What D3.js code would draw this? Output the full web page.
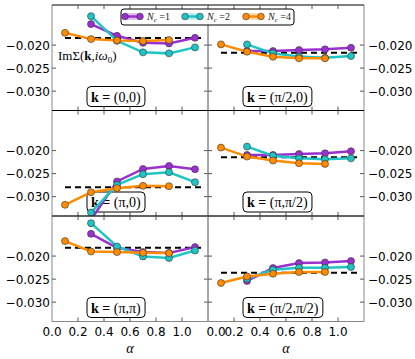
<!DOCTYPE html>
<html><head><meta charset="utf-8">
<script src="https://cdn.jsdelivr.net/npm/d3@7"></script>
<style>body{margin:0;background:#fff}</style></head>
<body>
<svg id="c" width="415" height="359"></svg>
<script>
// ---------- data ----------
const kLabels = ["(0,0)", "(π/2,0)", "(π,0)", "(π,π/2)", "(π,π)", "(π/2,π/2)"];
const alphaNc12 = [0.3, 0.5, 0.7, 0.9, 1.1];
const alphaNc4 = [0.1, 0.3, 0.5, 0.7, 0.9];
const nc1 = [
  [-0.01545, -0.01799, -0.0195, -0.01963, -0.01842],
  [-0.0213, -0.0213, -0.02108, -0.02093, -0.02058],
  [-0.0350, -0.0267, -0.02398, -0.02333, -0.02405],
  [-0.02095, -0.02095, -0.02074, -0.02058, -0.02015],
  [-0.01517, -0.0182, -0.01913, -0.01935, -0.01805],
  [-0.0254, -0.0226, -0.02152, -0.02138, -0.02108]
];
const nc2 = [
  [-0.01372, -0.01907, -0.02158, -0.0218, -0.0205],
  [-0.01985, -0.0218, -0.0225, -0.02275, -0.02238],
  [-0.03345, -0.02745, -0.02513, -0.0247, -0.02686],
  [-0.01913, -0.0211, -0.02167, -0.02188, -0.02167],
  [-0.01286, -0.01792, -0.02009, -0.02043, -0.01879],
  [-0.02491, -0.02297, -0.02253, -0.02253, -0.02238]
];
const nc4 = [
  [-0.01734, -0.0187, -0.01898, -0.01913, -0.01892],
  [-0.01985, -0.02145, -0.02253, -0.02288, -0.02288],
  [-0.03177, -0.02903, -0.02816, -0.02766, -0.02773],
  [-0.01935, -0.0213, -0.02216, -0.02275, -0.0229],
  [-0.01675, -0.019, -0.01913, -0.01929, -0.01935],
  [-0.02584, -0.02442, -0.02383, -0.02346, -0.02346]
];
const refLevel = [-0.01848, -0.02166, -0.02794, -0.02145, -0.0182, -0.0236];
const refRange = [0.1, 1.15];
const xTicks = [0, 0.2, 0.4, 0.6, 0.8, 1.0, 1.2];
const xTickLabels = ["0.0", "0.2", "0.4", "0.6", "0.8", "1.0", ""];
const yTicks = [-0.020, -0.025, -0.030];
const yTickLabels = ["\u22120.020", "\u22120.025", "\u22120.030"];
const seriesNames = ["1", "2", "4"];
const colors = ["#9b30d0", "#1fc4c4", "#ff8c00"];

// ---------- layout ----------
const svg = d3.select("#c");
const colX = [52, 208], pw = 156;
const rowY = [5, 110.5, 216], ph = 105.5;
const xDom = [0, 1.2], yDom = [-0.0342, -0.0113];

function drawPanel(i) {
  const col = i % 2, row = Math.floor(i / 2);
  const x0 = colX[col], y0 = rowY[row];
  const x = d3.scaleLinear().domain(xDom).range([x0, x0 + pw]);
  const y = d3.scaleLinear().domain(yDom).range([y0 + ph, y0]);
  const g = svg.append("g");
  const cid = "clip" + i;
  svg.append("clipPath").attr("id", cid).append("rect")
    .attr("x", x0).attr("y", y0).attr("width", pw).attr("height", ph);

  // label box
  const lg = g.append("g");
  const t = lg.append("text").attr("x", x(0.3)).attr("y", y0 + ph - 9)
    .attr("font-family", "Liberation Serif, DejaVu Serif, serif").attr("font-size", 14);
  t.append("tspan").attr("font-weight", "bold").text("k = ");
  t.append("tspan").text(kLabels[i]);
  const bb = t.node().getBBox();
  lg.insert("rect", "text").attr("x", bb.x - 4).attr("y", y0 + ph - 24)
    .attr("width", bb.width + 8).attr("height", 20).attr("rx", 4)
    .attr("fill", "#fff").attr("stroke", "#000").attr("stroke-width", 1);

  const dg = g.append("g").attr("clip-path", `url(#${cid})`);
  // reference dashed line
  dg.append("line").attr("x1", x(refRange[0])).attr("x2", x(refRange[1]))
    .attr("y1", y(refLevel[i])).attr("y2", y(refLevel[i]))
    .attr("stroke", "#000").attr("stroke-width", 2).attr("stroke-dasharray", "6,4");

  const series = [
    {a: alphaNc12, v: nc1[i], c: colors[0]},
    {a: alphaNc12, v: nc2[i], c: colors[1]},
    {a: alphaNc4, v: nc4[i], c: colors[2]}
  ];
  const line = d3.line().x(d => x(d[0])).y(d => y(d[1]));
  series.forEach(s => {
    const pts = s.a.map((a, j) => [a, s.v[j]]);
    dg.append("path").attr("d", line(pts)).attr("fill", "none")
      .attr("stroke", s.c).attr("stroke-width", 2.5);
    dg.selectAll(null).data(pts).enter().append("circle")
      .attr("cx", d => x(d[0])).attr("cy", d => y(d[1])).attr("r", 3.5)
      .attr("fill", s.c).attr("stroke", "#333").attr("stroke-width", 0.6);
  });

  // spines
  const sp = g.append("g");
  sp.append("line").attr("x1", x0).attr("x2", x0).attr("y1", y0).attr("y2", y0 + ph).attr("stroke", "#888");
  sp.append("line").attr("x1", x0 + pw).attr("x2", x0 + pw).attr("y1", y0).attr("y2", y0 + ph).attr("stroke", "#888");
  sp.append("line").attr("x1", x0).attr("x2", x0 + pw).attr("y1", y0 + ph).attr("y2", y0 + ph).attr("stroke", "#888");
  sp.append("line").attr("x1", x0).attr("x2", x0 + pw).attr("y1", y0).attr("y2", y0).attr("stroke", "#000");

  // ticks (inward, all sides)
  const tk = g.append("g").attr("stroke", "#555").attr("stroke-width", 1);
  xTicks.forEach(v => {
    if (v <= xDom[0] || v >= xDom[1]) return;
    tk.append("line").attr("x1", x(v)).attr("x2", x(v)).attr("y1", y0 + ph).attr("y2", y0 + ph - 4);
    tk.append("line").attr("x1", x(v)).attr("x2", x(v)).attr("y1", y0).attr("y2", y0 + 4);
  });
  yTicks.forEach(v => {
    tk.append("line").attr("x1", x0).attr("x2", x0 + 4).attr("y1", y(v)).attr("y2", y(v));
    tk.append("line").attr("x1", x0 + pw).attr("x2", x0 + pw - 4).attr("y1", y(v)).attr("y2", y(v));
  });

  // y tick labels
  const tf = "DejaVu Sans, sans-serif";
  yTicks.forEach((v, j) => {
    g.append("text").attr("x", col === 0 ? x0 - 2 : x0 + pw + 4).attr("y", y(v) + 4.5)
      .attr("text-anchor", col === 0 ? "end" : "start")
      .attr("font-family", tf).attr("font-size", 12).attr("fill", "#000").text(yTickLabels[j]);
  });
  // x tick labels on bottom row
  if (row === 2) {
    xTicks.forEach((v, j) => {
      if (!xTickLabels[j]) return;
      const shift = (col === 1 && j === 0) ? 8 : 0;
      g.append("text").attr("x", x(v) + shift).attr("y", y0 + ph + 14)
        .attr("text-anchor", "middle").attr("font-family", tf).attr("font-size", 12)
        .text(xTickLabels[j]);
    });
    g.append("text").attr("x", x(0.6)).attr("y", y0 + ph + 31).attr("text-anchor", "middle")
      .attr("font-family", "Liberation Serif, DejaVu Serif, serif").attr("font-style", "italic")
      .attr("font-size", 14).text("α");
  }

  if (i === 0) {
    const it = g.append("text").attr("x", 58).attr("y", 60)
      .attr("font-family", "Liberation Serif, DejaVu Serif, serif").attr("font-size", 13);
    it.append("tspan").text("ImΣ(");
    it.append("tspan").attr("font-weight", "bold").text("k");
    it.append("tspan").text(",");
    it.append("tspan").attr("font-style", "italic").text("iω");
    it.append("tspan").attr("font-size", 9).attr("dy", 3).text("0");
    it.append("tspan").attr("dy", -3).text(")");
  }
}
for (let i = 0; i < 6; i++) drawPanel(i);

// legend
const lgd = svg.append("g");
lgd.append("rect").attr("x", 121).attr("y", 9).attr("width", 173).attr("height", 16).attr("rx", 3)
  .attr("fill", "#fff").attr("stroke", "#000").attr("stroke-width", 1);
const legX = [125, 185, 246];
seriesNames.forEach((n, j) => {
  const lx = legX[j], ly = 16.5;
  lgd.append("line").attr("x1", lx).attr("x2", lx + 15).attr("y1", ly).attr("y2", ly)
    .attr("stroke", colors[j]).attr("stroke-width", 7).attr("opacity", 0.3);
  lgd.append("line").attr("x1", lx).attr("x2", lx + 15).attr("y1", ly).attr("y2", ly)
    .attr("stroke", colors[j]).attr("stroke-width", 2.5);
  [lx, lx + 15].forEach(cx => {
    lgd.append("circle").attr("cx", cx).attr("cy", ly).attr("r", 3.3)
      .attr("fill", colors[j]).attr("stroke", "#333").attr("stroke-width", 0.6);
  });
  const t = lgd.append("text").attr("x", lx + 22).attr("y", ly + 3.5)
    .attr("font-family", "Liberation Serif, DejaVu Serif, serif").attr("font-size", 10).attr("fill", "#222");
  t.append("tspan").attr("font-style", "italic").text("N");
  t.append("tspan").attr("font-style", "italic").attr("font-size", 7).attr("dy", 2).text("c");
  t.append("tspan").attr("dy", -2).text(" =" + n);
});
</script>
</body></html>
